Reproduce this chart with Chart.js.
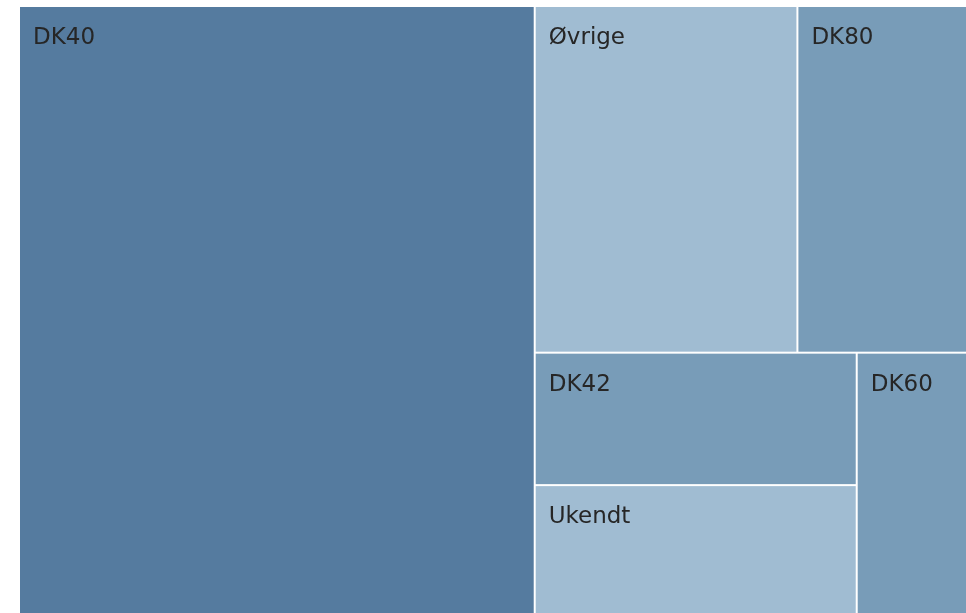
<!DOCTYPE html>
<html>
<head>
<meta charset="utf-8">
<script src="https://cdn.jsdelivr.net/npm/chart.js@4/dist/chart.umd.min.js"></script>
<style>
    html, body { margin: 0; padding: 0; background: #FFFFFF; overflow: hidden; }
    #wrap { position: relative; width: 967px; height: 614px; }
</style>
</head>
<body>
<div id="wrap"><canvas id="treemap"></canvas></div>
<script>
"use strict";

// categories and their share (in %)
const categories = ['DK40', 'Øvrige', 'DK80', 'DK42', 'Ukendt', 'DK60'];
const shares = [54.4, 15.8, 10.2, 7.4, 7.2, 5.0];
const cellColors = ['#557B9F', '#A0BCD2', '#789CB8', '#789CB8', '#A0BCD2', '#789CB8'];

// squarified layout (same rule as d3 squarify, golden ratio)
// works in data units, kx/ky turn them into pixels for the aspect test
function squarify(vals, x0, y0, x1, y1, kx, ky) {
    const ratio = (1 + Math.sqrt(5)) / 2;
    const rects = [];
    const n = vals.length;
    let value = vals.reduce((a, b) => a + b, 0);
    let i0 = 0, i1 = 0;
    while (i0 < n) {
        const dx = x1 - x0, dy = y1 - y0;
        const px = dx * kx, py = dy * ky;
        let sum = vals[i1++];
        let minV = sum, maxV = sum;
        const alpha = Math.max(py / px, px / py) / (value * ratio);
        let beta = sum * sum * alpha;
        let minRatio = Math.max(maxV / beta, beta / minV);
        for (; i1 < n; ++i1) {
            const v = vals[i1];
            sum += v;
            if (v < minV) minV = v;
            if (v > maxV) maxV = v;
            beta = sum * sum * alpha;
            const newRatio = Math.max(maxV / beta, beta / minV);
            if (newRatio > minRatio) { sum -= v; break; }
            minRatio = newRatio;
        }
        if (px < py) {
            // row across the top
            const yb = y0 + dy * sum / value;
            let x = x0;
            for (let i = i0; i < i1; i++) {
                const w = dx * vals[i] / sum;
                rects[i] = {x0: x, x1: x + w, y0: y0, y1: yb};
                x += w;
            }
            y0 = yb;
        } else {
            // column on the left
            const xb = x0 + dx * sum / value;
            let y = y0;
            for (let i = i0; i < i1; i++) {
                const h = dy * vals[i] / sum;
                rects[i] = {x0: x0, x1: xb, y0: y, y1: y + h};
                y += h;
            }
            x0 = xb;
        }
        value -= sum;
        i0 = i1;
    }
    return rects;
}

const treemapPlugin = {
    id: 'treemapCells',
    beforeDatasetsDraw(chart) {
        const ds = chart.data.datasets[0];
        const xs = chart.scales.x, ys = chart.scales.y;
        const area = chart.chartArea;
        const kx = area.width / (xs.max - xs.min);
        const ky = area.height / (ys.max - ys.min);
        const rects = squarify(ds.tree, xs.min, ys.min, xs.max, ys.max, kx, ky);
        const ctx = chart.ctx;
        ctx.save();
        rects.forEach((r, i) => {
            const left = xs.getPixelForValue(r.x0);
            const right = xs.getPixelForValue(r.x1);
            const top = ys.getPixelForValue(r.y0);
            const bottom = ys.getPixelForValue(r.y1);
            // 1px white edge all round
            ctx.fillStyle = ds.cellColors[i];
            ctx.fillRect(left + 1, top + 1, right - left - 2, bottom - top - 2);
            ctx.fillStyle = '#262626';
            ctx.font = '23px "DejaVu Sans"';
            ctx.textBaseline = 'alphabetic';
            ctx.textAlign = 'left';
            ctx.fillText(chart.data.labels[i], left + 14, top + 38);
        });
        ctx.restore();
    }
};

new Chart(document.getElementById('treemap'), {
    type: 'scatter',
    data: {
        labels: categories,
        datasets: [{
            label: 'Andel',
            data: [],
            tree: shares,
            cellColors: cellColors
        }]
    },
    options: {
        responsive: true,
        maintainAspectRatio: false,
        animation: false,
        layout: {
            padding: {left: 19, top: 6, right: 0, bottom: 0}
        },
        plugins: {
            legend: {display: false},
            tooltip: {enabled: false}
        },
        scales: {
            x: {type: 'linear', min: 0, max: 100, display: false},
            y: {type: 'linear', min: 0, max: 100, reverse: true, display: false}
        }
    },
    plugins: [treemapPlugin]
});
</script>
</body>
</html>
